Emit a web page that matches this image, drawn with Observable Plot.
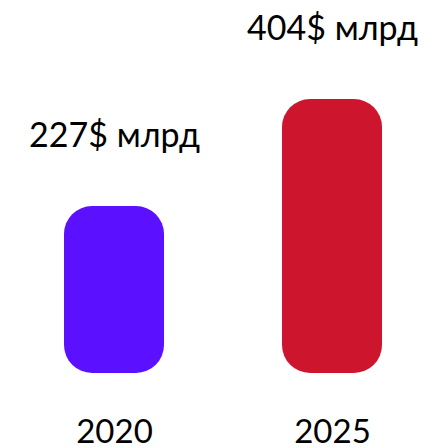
<!DOCTYPE html>
<html><head><meta charset="utf-8">
<script src="https://cdn.jsdelivr.net/npm/d3@7"></script>
<script src="https://cdn.jsdelivr.net/npm/@observablehq/plot@0.6"></script>
<style>
html,body{margin:0;padding:0;background:#fff;}
</style>
</head><body>
<div id="chart"></div>
<script>
const years = ["2020", "2025"];
const values = [227, 404];
const valueLabels = ["227$ млрд", "404$ млрд"];
const colors = ["#5B10FF", "#CE152E"];

const data = years.map((y, i) => ({year: y, value: values[i], label: valueLabels[i], color: colors[i]}));
const baseline = -49;

const chart = Plot.plot({
  width: 429,
  height: 448,
  margin: 0,
  style: {fontFamily: "Lato, sans-serif", background: "#fff"},
  x: {domain: years, range: [64, 382.1], paddingInner: 0.541, paddingOuter: 0, axis: null},
  y: {domain: [baseline, 404], range: [373, 99], axis: null},
  marks: [
    Plot.barY(data, {x: "year", y1: baseline, y2: "value", fill: "color", rx: 28}),
    Plot.text(data, {x: "year", y: "value", text: "label", lineAnchor: "bottom", dy: -60, fontSize: 34, fill: "#000"}),
    Plot.text(data, {x: "year", text: "year", frameAnchor: "bottom", lineAnchor: "bottom", dy: -6, fontSize: 33, fill: "#000"})
  ]
});
document.getElementById("chart").appendChild(chart);
</script>
</body></html>
